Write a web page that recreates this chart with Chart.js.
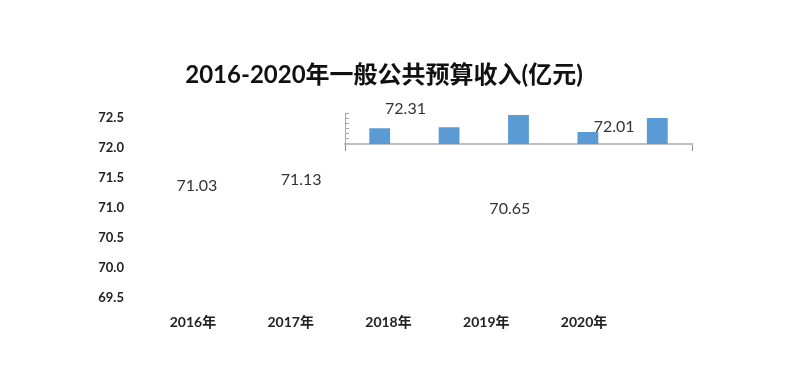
<!DOCTYPE html>
<html>
<head>
<meta charset="utf-8">
<script src="https://cdn.jsdelivr.net/npm/chart.js@4.4.1/dist/chart.umd.min.js"></script>
<style>
  body { margin: 0; background: #fff; }
  #wrap { position: relative; width: 800px; height: 366px; }
  #mainChart { position: absolute; left: 0; top: 0; }
  #insetBox { position: absolute; left: 300px; top: 95px; width: 420px; height: 70px; }
</style>
</head>
<body>
<div id="wrap">
  <canvas id="mainChart" width="800" height="366"></canvas>
  <div id="insetBox"><canvas id="insetChart" width="420" height="70"></canvas></div>
</div>
<script>
const years = ["2016年", "2017年", "2018年", "2019年", "2020年"];
const revenue = [71.03, 71.13, 72.31, 70.65, 72.01];
const axisMin = 69.5;
const axisMax = 72.5;
const axisStep = 0.5;
const titleText = "2016-2020年一般公共预算收入(亿元)";

const FONT = "Lato, 'Noto Sans CJK SC', sans-serif";

/* draws the value text of each (invisible) point a bit above it */
const valueLabels = {
  id: "valueLabels",
  afterDatasetsDraw(chart) {
    const ctx = chart.ctx;
    const meta = chart.getDatasetMeta(0);
    ctx.save();
    ctx.font = "16px " + FONT;
    ctx.fillStyle = "#333333";
    ctx.textAlign = "center";
    ctx.textBaseline = "middle";
    meta.data.forEach((pt, i) => {
      ctx.fillText(revenue[i].toFixed(2), pt.x, pt.y - 20);
    });
    ctx.restore();
  },
};

// main plot: the axes and the labels, bars are pushed to the small inset
new Chart(document.getElementById("mainChart").getContext("2d"), {
  type: "line",
  data: {
    labels: years,
    datasets: [
      {
        data: revenue.map((v, i) => ({ x: i, y: v })),
        xAxisID: "xl",
        yAxisID: "y",
        showLine: false,
        pointRadius: 0,
        pointHoverRadius: 0,
      },
    ],
  },
  options: {
    responsive: false,
    animation: false,
    events: [],
    layout: { padding: { left: 80, right: 112, top: 49, bottom: 19 } },
    plugins: {
      legend: { display: false },
      tooltip: { enabled: false },
      title: {
        display: true,
        text: titleText,
        color: "#111111",
        font: { family: FONT, size: 24, weight: "bold" },
        padding: { top: 12, bottom: 28 },
      },
    },
    scales: {
      x: {
        type: "category",
        offset: true,
        grid: { display: false, drawTicks: false },
        border: { display: false },
        ticks: {
          color: "#222222",
          padding: 16,
          font: { family: FONT, size: 14, weight: "bold" },
        },
      },
      xl: { type: "linear", display: false, min: -0.507, max: 4.181 },
      y: {
        min: axisMin,
        max: axisMax,
        grid: { display: false, drawTicks: false },
        border: { display: false },
        ticks: {
          stepSize: axisStep,
          padding: 20,
          color: "#222222",
          font: { family: FONT, size: 13, weight: "bold" },
          callback: (v) => v.toFixed(1),
        },
        afterFit: (scale) => { scale.width = 64; },
      },
      yR: {
        position: "right",
        grid: { display: false, drawTicks: false },
        border: { display: false },
        ticks: { display: false },
        afterFit: (scale) => { scale.width = 55; },
      },
    },
  },
  plugins: [valueLabels],
});

// the little squeezed bar plot in the upper right
new Chart(document.getElementById("insetChart").getContext("2d"), {
  type: "bar",
  data: {
    labels: years,
    datasets: [
      {
        data: revenue,
        backgroundColor: "#5b9bd5",
        barPercentage: 0.3,
        categoryPercentage: 1.0,
      },
    ],
  },
  options: {
    responsive: false,
    animation: false,
    events: [],
    layout: { padding: { left: 45, right: 28, top: 18, bottom: 14 } },
    plugins: { legend: { display: false }, tooltip: { enabled: false } },
    scales: {
      x: {
        offset: true,
        grid: {
          display: true,
          drawOnChartArea: false,
          offset: true,
          tickLength: 7,
          color: (c) => (c.type !== "tick" || c.index === 0 ? "#8c8c8c" : "rgba(0,0,0,0)"),
        },
        border: { display: true, color: "#bfbfbf", width: 2 },
        ticks: { display: false },
        afterFit: (scale) => { scale.height = 7; },
      },
      y: {
        min: axisMin,
        max: axisMax,
        grid: { display: true, drawOnChartArea: false, tickLength: -4, color: "#a6a6a6" },
        border: { display: true, color: "#a6a6a6" },
        ticks: { display: false, stepSize: axisStep },
        afterFit: (scale) => { scale.width = 0; },
      },
    },
  },
});
</script>
</body>
</html>
